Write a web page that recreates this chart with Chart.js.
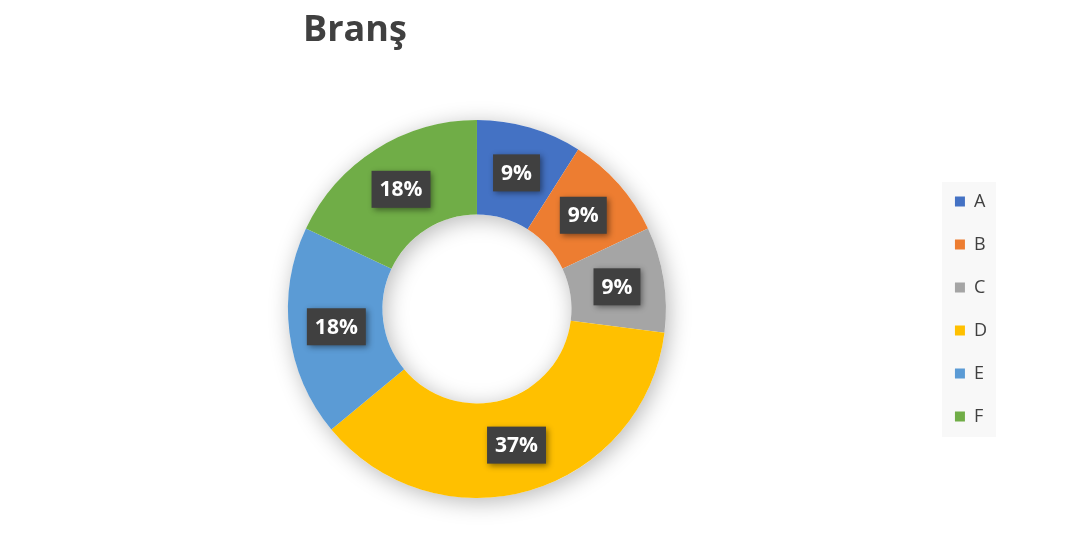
<!DOCTYPE html>
<html>
<head>
<meta charset="utf-8">
<script src="https://cdn.jsdelivr.net/npm/chart.js@4.4.1/dist/chart.umd.min.js"></script>
<style>
  html, body { margin: 0; padding: 0; background: #ffffff; }
  #wrap { width: 1078px; height: 555px; position: relative; }
</style>
</head>
<body>
<div id="wrap"><canvas id="chart"></canvas></div>
<script>
// Data
const chartTitle = 'Branş';
const categories = ['A', 'B', 'C', 'D', 'E', 'F'];
const shares = [9, 9, 9, 37, 18, 18];
const sliceColors = ['#4472C4', '#ED7D31', '#A5A5A5', '#FFC000', '#5B9BD5', '#70AD47'];

// Soft shadow under the ring
const ringShadow = {
    id: 'ringShadow',
    beforeDatasetsDraw(chart) {
        const arc = chart.getDatasetMeta(0).data[0];
        if (!arc) return;
        const { x, y, outerRadius, innerRadius } = arc.getProps(['x', 'y', 'outerRadius', 'innerRadius'], true);
        const ctx = chart.ctx;
        ctx.save();
        ctx.shadowColor = 'rgba(0,0,0,0.28)';
        ctx.shadowBlur = 22;
        ctx.shadowOffsetX = 3;
        ctx.shadowOffsetY = 4;
        ctx.fillStyle = '#ffffff';
        ctx.beginPath();
        ctx.arc(x, y, outerRadius, 0, Math.PI * 2);
        ctx.arc(x, y, innerRadius, 0, Math.PI * 2, true);
        ctx.fill();
        ctx.restore();
    }
};

// Dark percentage boxes on each slice
const sliceLabels = {
    id: 'sliceLabels',
    afterDatasetsDraw(chart) {
        const ctx = chart.ctx;
        const values = chart.data.datasets[0].data;
        const total = values.reduce((s, v) => s + v, 0);
        ctx.save();
        ctx.font = 'bold 21px "Open Sans", sans-serif';
        ctx.textAlign = 'center';
        ctx.textBaseline = 'middle';
        chart.getDatasetMeta(0).data.forEach((arc, i) => {
            const pos = arc.tooltipPosition();
            const text = Math.round(values[i] / total * 100) + '%';
            const w = ctx.measureText(text).width + 16;
            const h = 37;
            ctx.save();
            ctx.shadowColor = 'rgba(0,0,0,0.45)';
            ctx.shadowBlur = 6;
            ctx.shadowOffsetX = 2;
            ctx.shadowOffsetY = 2;
            ctx.fillStyle = '#404040';
            ctx.fillRect(pos.x - w / 2, pos.y - h / 2, w, h);
            ctx.restore();
            ctx.fillStyle = '#ffffff';
            ctx.fillText(text, pos.x, pos.y + 1);
        });
        ctx.restore();
    }
};

// Title and legend background
const frame = {
    id: 'frame',
    beforeDraw(chart) {
        const ctx = chart.ctx;
        ctx.save();
        ctx.fillStyle = '#f8f8f8';
        ctx.fillRect(942, 182, 54, 255);
        ctx.restore();
    },
    afterDraw(chart) {
        const ctx = chart.ctx;
        ctx.save();
        ctx.font = 'bold 36px "Open Sans", sans-serif';
        ctx.fillStyle = '#404040';
        ctx.textAlign = 'center';
        ctx.textBaseline = 'alphabetic';
        ctx.fillText(chartTitle, 355, 41);
        ctx.restore();
    }
};

const ctx = document.getElementById('chart').getContext('2d');
new Chart(ctx, {
    type: 'doughnut',
    data: {
        labels: categories,
        datasets: [{
            data: shares,
            backgroundColor: sliceColors,
            borderWidth: 0,
            hoverOffset: 0
        }]
    },
    options: {
        responsive: true,
        maintainAspectRatio: false,
        animation: false,
        cutout: '50%',
        layout: { padding: { top: 120, bottom: 57, left: 24, right: 81 } },
        plugins: {
            title: { display: false },
            tooltip: { enabled: false },
            legend: {
                position: 'right',
                labels: {
                    boxWidth: 10,
                    boxHeight: 10,
                    padding: 25,
                    color: '#404040',
                    font: { size: 18, family: '"Open Sans", sans-serif' }
                }
            }
        }
    },
    plugins: [ringShadow, sliceLabels, frame]
});
</script>
</body>
</html>
